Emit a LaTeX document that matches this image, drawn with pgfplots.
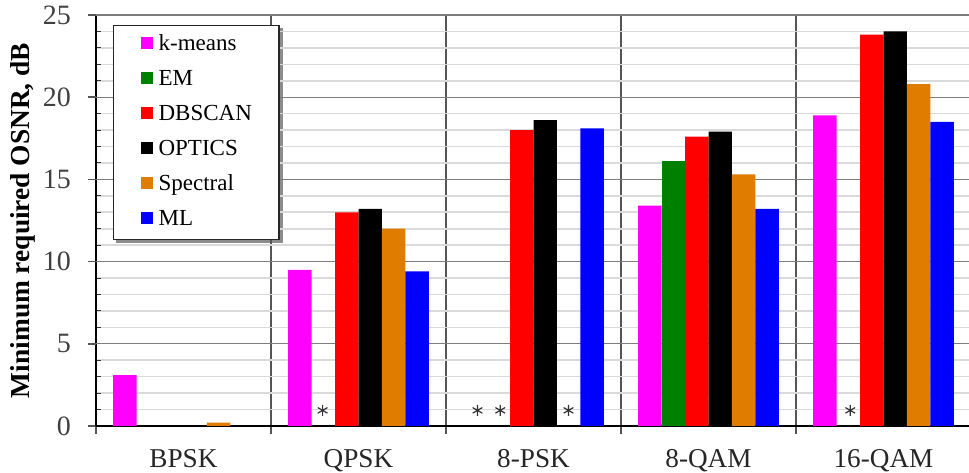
\documentclass[border=0pt]{standalone}
\usepackage{fontspec}
\setmainfont{LiberationSerif}[Extension=.ttf, UprightFont=*-Regular, BoldFont=*-Bold, ItalicFont=*-Italic, BoldItalicFont=*-BoldItalic]
\usepackage{pgfplots}
\pgfplotsset{compat=1.18}
\usetikzlibrary{backgrounds}
\definecolor{cMag}{RGB}{255,0,255}
\definecolor{cGreen}{RGB}{0,128,0}
\definecolor{cRed}{RGB}{255,0,0}
\definecolor{cOrange}{RGB}{224,125,0}
\definecolor{cBlue}{RGB}{0,0,255}
\definecolor{gridmin}{RGB}{218,218,218}
\definecolor{gridmaj}{RGB}{125,125,125}
\definecolor{sepc}{RGB}{85,85,85}
\pgfplotsset{sq legend/.style={legend image code/.code={\fill[##1,draw=none] (0pt,-2pt) rectangle (6pt,4pt);}}}
\begin{document}
\begin{tikzpicture}
\begin{axis}[
  name=ax,
  scale only axis,
  width=437.5pt, height=205.5pt,
  xmin=-0.5, xmax=4.5, ymin=0, ymax=25,
  axis x line*=bottom, axis y line*=left,
  axis line style={black, line width=0.9pt},
  xtick={-0.5,0.5,1.5,2.5,3.5,4.5},
  x tick label as interval,
  xticklabels={BPSK,QPSK,8-PSK,8-QAM,16-QAM},
  ytick={0,5,10,15,20,25},
  minor y tick num=4,
  tick align=outside,
  major tick length=4pt, minor tick length=2.5pt,
  tick style={sepc, line width=0.8pt},
  minor tick style={xshift=2.5pt, black!80, line width=0.5pt},
  xmajorgrids, ymajorgrids=false, yminorgrids,
  major grid style={sepc, line width=0.8pt},
  minor grid style={gridmin, line width=0.8pt},
  extra y ticks={5,10,15,20,25},
  extra y tick labels={},
  extra y tick style={grid=major, major grid style={gridmaj, line width=0.6pt}},
  /pgf/number format/assume math mode=true,
  yticklabel style={font=\fontsize{14}{16}\selectfont, text=black!75, xshift=-5pt},
  xticklabel style={font=\fontsize{13.6}{16}\selectfont, text=black!85, yshift=-4pt},
  ylabel={Minimum required OSNR, dB},
  every axis y label/.style={at={(axis description cs:0,0.5)}, anchor=center, xshift=-36.5pt, rotate=90, font=\bfseries\fontsize{13.7}{16}\selectfont},
  legend cell align=left,
  legend style={
    name=leg,
    at={(0,1)}, anchor=north west, xshift=8.5pt, yshift=-5pt,
    draw=black!85, line width=0.6pt, fill=white,
    font=\fontsize{11.5}{13}\selectfont,
    inner xsep=13.5pt, inner ysep=4.5pt, row sep=7pt,
    nodes={text height=8pt, text depth=2.5pt, inner sep=0pt},
    /tikz/every odd column/.append style={column sep=3pt},
  },
]
\addplot[ybar, bar width=0.134, bar shift=-0.335, fill=cMag, draw=none, sq legend]
  coordinates {(0,3.1) (1,9.5) (3,13.4) (4,18.9)};
\addplot[ybar, bar width=0.134, bar shift=-0.201, fill=cGreen, draw=none, sq legend]
  coordinates {(3,16.1)};
\addplot[ybar, bar width=0.134, bar shift=-0.067, fill=cRed, draw=none, sq legend]
  coordinates {(1,13.0) (2,18.0) (3,17.6) (4,23.8)};
\addplot[ybar, bar width=0.134, bar shift=0.067, fill=black, draw=none, sq legend]
  coordinates {(1,13.2) (2,18.6) (3,17.9) (4,24.0)};
\addplot[ybar, bar width=0.134, bar shift=0.201, fill=cOrange, draw=none, sq legend]
  coordinates {(0,0.2) (1,12.0) (3,15.3) (4,20.8)};
\addplot[ybar, bar width=0.134, bar shift=0.335, fill=cBlue, draw=none, sq legend]
  coordinates {(1,9.4) (2,18.1) (3,13.2) (4,18.5)};
\legend{k-means,EM,DBSCAN,OPTICS,Spectral,ML}
\addplot[only marks, mark=asterisk, mark size=2.8pt, black!80, mark options={line width=0.6pt}, forget plot]
  coordinates {(0.795,0.95) (1.68,0.95) (1.81,0.95) (2.20,0.95) (3.81,0.95)};
\end{axis}
\begin{scope}[on background layer]
\fill[black!45] ([xshift=1.6pt,yshift=-1.6pt]leg.south west) rectangle ([xshift=1.6pt,yshift=-1.6pt]leg.north east);
\end{scope}
\pgfresetboundingbox
\path ([xshift=-48pt,yshift=-23.5pt]ax.south west) rectangle ([xshift=-1pt,yshift=7.5pt]ax.north east);
\end{tikzpicture}
\end{document}
